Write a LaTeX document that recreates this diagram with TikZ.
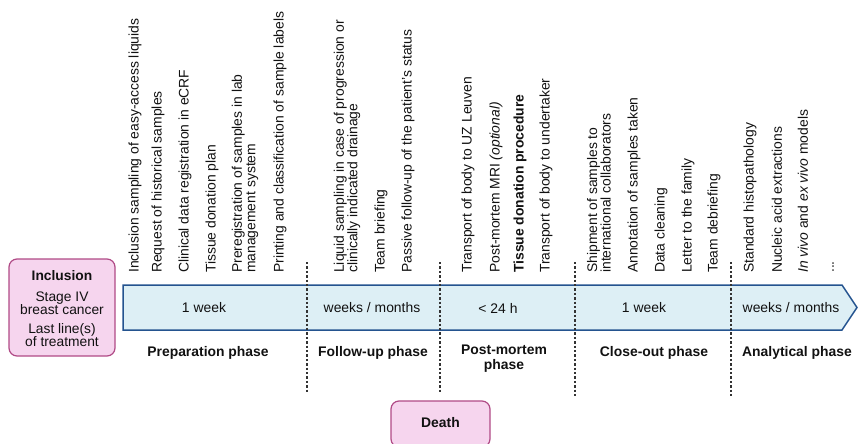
\documentclass[tikz,border=0pt]{standalone}
\usepackage{fontspec}
\setmainfont{Liberation Sans}
\definecolor{bandfill}{HTML}{DDEFF5}
\definecolor{bandline}{HTML}{24538F}
\definecolor{pinkfill}{HTML}{F6D5EE}
\definecolor{pinkline}{HTML}{B04A86}
\definecolor{txt}{HTML}{111111}
\begin{document}
\begin{tikzpicture}[x=1pt,y=-1pt,
  task/.style={rotate=90, anchor=west, inner sep=0pt, align=left, text=txt,
    font=\fontsize{13.9}{13.5}\selectfont},
  phase/.style={font=\fontsize{13.9}{15}\selectfont\bfseries, align=center, inner sep=0pt, text=txt},
  dur/.style={font=\fontsize{13.9}{15}\selectfont, inner sep=0pt, text=txt},
  sep/.style={draw=black!80, line width=1.1pt, dash pattern=on 2.4pt off 2pt},
  pinkbox/.style={draw=pinkline, fill=pinkfill, line width=1.2pt, rounded corners=8pt}]
\useasboundingbox (0,0) rectangle (859,444);

% timeline band
\draw[bandline, fill=bandfill, line width=1.5pt]
  (123,285) -- (842,285) -- (857,307.5) -- (842,330) -- (123,330) -- cycle;

% separators
\foreach \n/\x/\yb in {s1/307/392, s2/440/392, s3/575/397, s4/731/397}{
  \coordinate (\n t) at (\x,262);
  \coordinate (\n b) at (\x,\yb);
  \draw[sep] (\n t) -- (\n b);
}

% inclusion box
\node[pinkbox, minimum width=106pt, minimum height=97pt] (incl) at (62,307.5) {};
\node[anchor=north, align=center, inner sep=0pt, text=txt,
  font=\fontsize{13.8}{13}\selectfont] (incltxt) at (62,270.5)
  {\textbf{Inclusion}\\[8pt]Stage IV\\breast cancer\\[6pt]Last line(s)\\of treatment};

% death box
\node[pinkbox, minimum width=99pt, minimum height=46pt] (death) at (440.5,424) {};
\node[phase] (deathtxt) at (440.5,423) {Death};

% tasks
\node[task] (t1) at (135,273) {Inclusion sampling of easy-access liquids};
\node[task] (t2) at (158,273) {Request of historical samples};
\node[task] (t3) at (185,273) {Clinical data registration in eCRF};
\node[task] (t4) at (212,273) {Tissue donation plan};
\node[task] (t5) at (245,273) {Preregistration of samples in lab\\management system};
\node[task] (t6) at (280,273) {Printing and classification of sample labels};
\node[task] (t7) at (347,273) {Liquid sampling in case of progression or\\clinically indicated drainage};
\node[task] (t8) at (381,273) {Team briefing};
\node[task] (t9) at (408,273) {Passive follow-up of the patient's status};
\node[task] (t10) at (468,273) {Transport of body to UZ Leuven};
\node[task] (t11) at (496,273) {Post-mortem MRI \textit{(optional)}};
\node[task] (t12) at (520,273) {\textbf{Tissue donation procedure}};
\node[task] (t13) at (546,273) {Transport of body to undertaker};
\node[task] (t14) at (599,273) {Shipment of samples to\\international collaborators};
\node[task] (t15) at (634,273) {Annotation of samples taken};
\node[task] (t16) at (661,273) {Data cleaning};
\node[task] (t17) at (688,273) {Letter to the family};
\node[task] (t18) at (714,273) {Team debriefing};
\node[task] (t19) at (750,273) {Standard histopathology};
\node[task] (t20) at (777,273) {Nucleic acid extractions};
\node[task] (t21) at (803,273) {\textit{In vivo} and \textit{ex vivo} models};
\node[task] (t22) at (833,273) {...};

% durations
\node[dur] (d1) at (204,308) {1 week};
\node[dur] (d2) at (372,308) {weeks / months};
\node[dur] (d3) at (498,308) {< 24 h};
\node[dur] (d4) at (644,308) {1 week};
\node[dur] (d5) at (791,308) {weeks / months};

% phases
\node[phase] (p1) at (208,353) {Preparation phase};
\node[phase] (p2) at (373,353) {Follow-up phase};
\node[phase] (p3) at (504,358.5) {Post-mortem\\phase};
\node[phase] (p4) at (654,353) {Close-out phase};
\node[phase] (p5) at (797,353) {Analytical phase};
\end{tikzpicture}
\end{document}
